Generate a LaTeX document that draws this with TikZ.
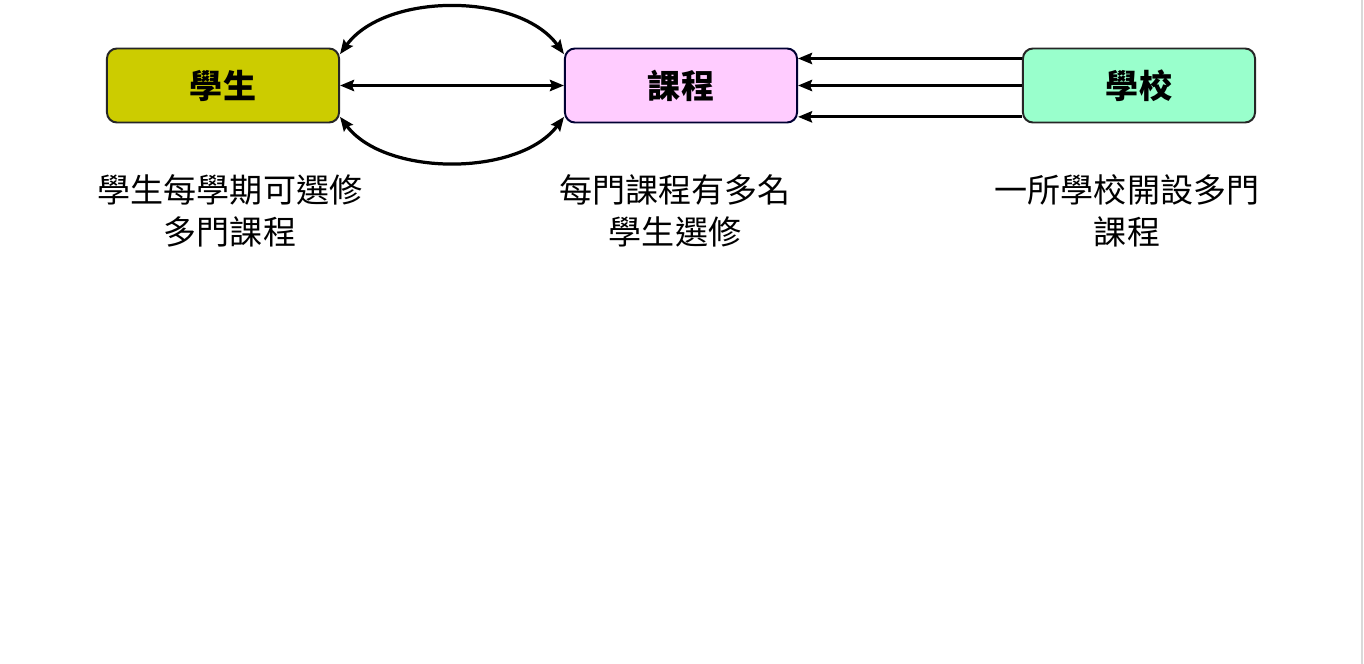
\documentclass[tikz,border=0pt]{standalone}
\usepackage{fontspec}
\setmainfont{Noto Sans CJK TC}
\usetikzlibrary{arrows.meta}
\definecolor{stucolor}{HTML}{CCCC00}
\definecolor{crscolor}{HTML}{FFCCFF}
\definecolor{schcolor}{HTML}{99FFCC}
\begin{document}
\begin{tikzpicture}[x=0.025cm,y=-0.025cm,
	entity/.style={draw=black!85,line width=1.4pt,rounded corners=0.25cm,
		minimum width=5.8cm,minimum height=1.85cm,
		font=\fontsize{23.5}{29}\selectfont\bfseries},
	note/.style={align=center,font=\fontsize{23.5}{29.8}\selectfont},
	link/.style={line width=2.3pt,>={Stealth[length=10pt,width=8pt,inset=1.5pt]}}]
	% 範圍
	\useasboundingbox (0,0) rectangle (1364,664);
	\draw[black!15,line width=1pt] (1362,0)--(1362,664);
	% 實體
	\node[entity,fill=stucolor] (stu) at (223,85.5) {學生};
	\node[entity,fill=crscolor,draw=blue!20!black] (crs) at (681,85.5) {課程};
	\node[entity,fill=schcolor] (sch) at (1139,85.5) {學校};
	% 說明文字
	\node[note] (stunote) at (230,211) {學生每學期可選修\\多門課程};
	\node[note] (crsnote) at (675,211) {每門課程有多名\\學生選修};
	\node[note] (schnote) at (1127,211) {一所學校開設多門\\課程};
	% 學生與課程
	\draw[link,<->] (stu.east)--(crs.west);
	\draw[link,<->] (stu.15) .. controls +(45,-62) and +(-45,-62) .. (crs.165);
	\draw[link,<->] (stu.-15) .. controls +(45,60) and +(-45,60) .. (crs.195);
	% 學校與課程
	\draw[link,->] (sch.167)--(sch.167 -| crs.east);
	\draw[link,->] (sch.west)--(crs.east);
	\draw[link,->] (sch.195)--(sch.195 -| crs.east);
\end{tikzpicture}
\end{document}
